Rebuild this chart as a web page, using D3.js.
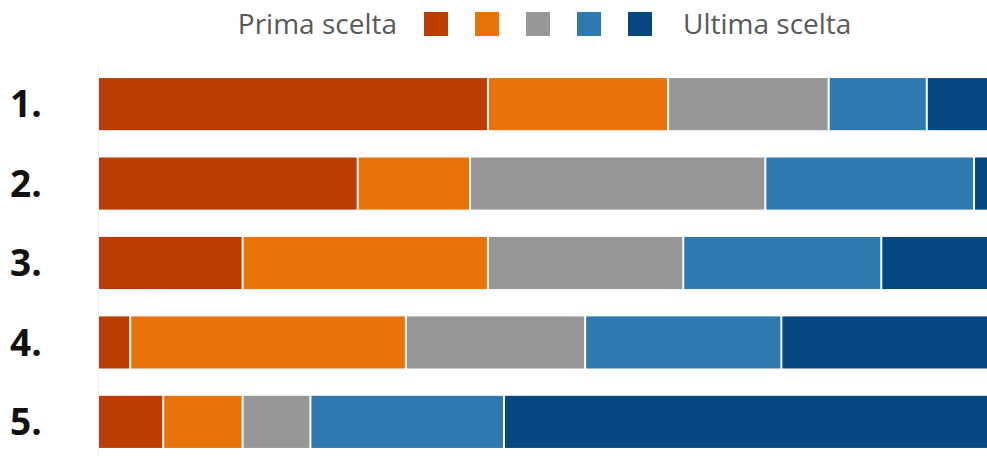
<!DOCTYPE html>
<html>
<head>
<meta charset="utf-8">
<script src="https://cdn.jsdelivr.net/npm/d3@7"></script>
<style>
  body { margin: 0; background: #fff; }
  svg { display: block; }
</style>
</head>
<body>
<svg width="987" height="456"></svg>
<script>
// Ranks shown on the left, one stacked bar each
var ranks = ['1.', '2.', '3.', '4.', '5.'];
// Share (%) of each choice level per rank
var primaScelta   = [43.6, 29.0, 16.1,  3.5,  7.2];
var secondaScelta = [20.2, 12.6, 27.5, 30.9,  8.9];
var terzaScelta   = [18.0, 33.1, 21.9, 20.1,  7.6];
var quartaScelta  = [11.0, 23.4, 22.2, 22.0, 21.7];
var ultimaScelta  = [ 7.2,  1.9, 12.3, 23.5, 54.6];
var legendLeft = 'Prima scelta';
var legendRight = 'Ultima scelta';

var colors = ['#bb3d02', '#e8730a', '#979797', '#2d79b0', '#054781'];

var svg = d3.select('svg');
var svgWidth = +svg.attr('width');
var svgHeight = +svg.attr('height');

// Build table rows for the stack layout
var keys = ['c1', 'c2', 'c3', 'c4', 'c5'];
var table = ranks.map(function(r, i) {
    return {
        rank: r,
        c1: primaScelta[i],
        c2: secondaScelta[i],
        c3: terzaScelta[i],
        c4: quartaScelta[i],
        c5: ultimaScelta[i]
    };
});
var stacked = d3.stack().keys(keys)(table);

var x = d3.scaleLinear().domain([0, 100]).range([99, 991]);
var y = d3.scaleBand()
    .domain(ranks)
    .range([64.4, 461.6])
    .paddingInner(0.344)
    .paddingOuter(0.172);

// faint left axis line
svg.append('line')
    .attr('x1', 98.5).attr('x2', 98.5)
    .attr('y1', 66).attr('y2', svgHeight)
    .attr('stroke', '#ececec')
    .attr('stroke-width', 1);

var layers = svg.append('g').selectAll('g')
    .data(stacked)
    .enter().append('g')
    .attr('fill', function(d, i) { return colors[i]; });

layers.selectAll('rect')
    .data(function(d) { return d; })
    .enter().append('rect')
    .attr('x', function(d) { return d[0] === 0 ? x(0) : x(d[0]) + 1; })
    .attr('y', function(d) { return y(d.data.rank); })
    .attr('height', y.bandwidth())
    .attr('width', function(d) {
        var x0 = d[0] === 0 ? x(0) : x(d[0]) + 1;
        return Math.max(0, x(d[1]) - 1 - x0);
    });

// rank labels
svg.append('g').selectAll('text')
    .data(ranks)
    .enter().append('text')
    .attr('x', 10)
    .attr('y', function(d) { return y(d) + y.bandwidth() / 2; })
    .attr('dy', '0.36em')
    .attr('font-family', '"Open Sans", sans-serif')
    .attr('font-weight', 'bold')
    .attr('font-size', 37)
    .attr('fill', '#111')
    .text(function(d) { return d; });

// legend
var legend = svg.append('g');
legend.append('text')
    .attr('x', 397)
    .attr('y', 24)
    .attr('dy', '0.35em')
    .attr('text-anchor', 'end')
    .attr('font-family', '"Open Sans", sans-serif')
    .attr('font-size', 28)
    .attr('fill', '#595959')
    .text(legendLeft);

legend.selectAll('rect')
    .data(colors)
    .enter().append('rect')
    .attr('x', function(d, i) { return 424 + i * 51; })
    .attr('y', 12)
    .attr('width', 24)
    .attr('height', 24)
    .attr('fill', function(d) { return d; });

legend.append('text')
    .attr('x', 683)
    .attr('y', 24)
    .attr('dy', '0.35em')
    .attr('font-family', '"Open Sans", sans-serif')
    .attr('font-size', 28)
    .attr('fill', '#595959')
    .text(legendRight);
</script>
</body>
</html>
